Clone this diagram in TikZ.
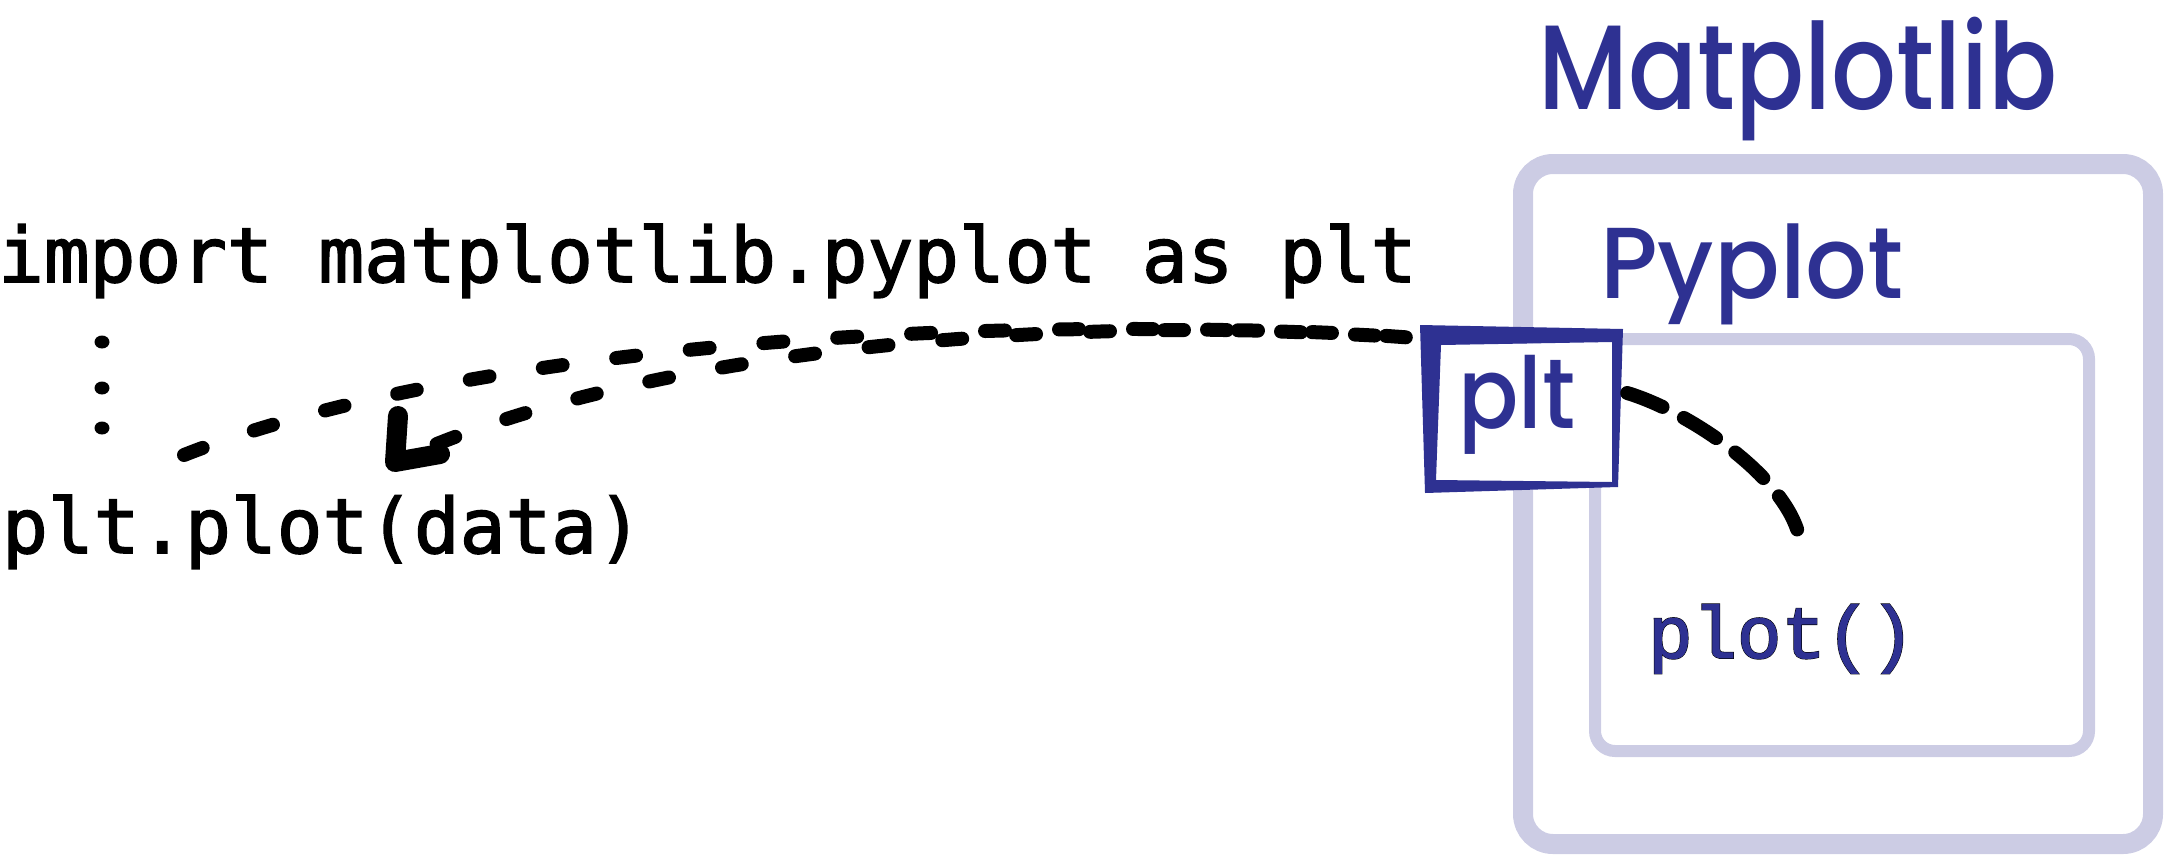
\documentclass[tikz,border=0pt]{standalone}
\usepackage{fontspec}
\usepackage{graphicx}
\usetikzlibrary{calc}
\newfontfamily\codefont{DejaVu Sans Mono}[FakeBold=2]
\newfontfamily\handfont{Poppins Medium}
\newfontfamily\plotfont{Liberation Mono}[FakeBold=1.2]
\newfontfamily\plotoutline{Liberation Mono}[FakeBold=2.6]
\definecolor{inkblue}{RGB}{46,49,146}
\definecolor{lav}{RGB}{204,204,228}
\begin{document}
\begin{tikzpicture}[x=1pt,y=-1pt,
  codetext/.style={inner sep=0pt, anchor=base west, font=\codefont\fontsize{76}{90}\selectfont},
  handtext/.style={inner sep=0pt, anchor=base west, text=inkblue},
  dashline/.style={line width=14pt, line cap=round, dash pattern=on 20pt off 54pt},
  shortdash/.style={line width=14pt, line cap=round, dash pattern=on 38pt off 24pt},
  lavouter/.style={draw=lav, line width=20pt, rounded corners=30pt},
  lavinner/.style={draw=lav, line width=12pt, rounded corners=20pt}
]
\useasboundingbox (0,0) rectangle (2166,857);
% lavender containers
\draw[lavouter] (1523,164) rectangle (2153,844);
\draw[lavinner] (1595,339) rectangle (2089,751);
% code lines
\node[codetext] (code1) at (-2,282) {import matplotlib.pyplot as plt};
\node[codetext] (code2) at (2,553) {plt.plot(data)};
\fill (102,342) ellipse (7.5pt and 6.5pt);
\fill (102,388) ellipse (7.5pt and 6.5pt);
\fill (102,428) ellipse (7.5pt and 6.5pt);
% plt box (hand drawn)
\fill[white] (1441,345) -- (1612,342) -- (1612,482) -- (1436,480) -- cycle;
\fill[inkblue, even odd rule] (1420,325) -- (1623,329) -- (1618,487) -- (1425,493) -- cycle
  (1441,345) -- (1612,342) -- (1612,482) -- (1436,480) -- cycle;
\node[inner sep=0pt, minimum width=200pt, minimum height=165pt] (pltbox) at (1521,408) {};
\node[handtext, font=\handfont\fontsize{99}{99}\selectfont] (plttxt) at (1458,428) {\scalebox{0.9}[1]{plt}};
% titles
\node[handtext, font=\handfont\fontsize{120}{120}\selectfont] (mpl) at (1538,109) {\scalebox{0.85}[1]{Matplotlib}};
\node[handtext, font=\handfont\fontsize{101}{101}\selectfont] (pyp) at (1600,298) {\scalebox{0.96}[1]{Pyplot}};
% plot()
\node[inner sep=0pt, anchor=base west, font=\plotoutline\fontsize{74}{90}\selectfont] (plotfnbg) at (1648,658) {plot()};
\node[inner sep=0pt, anchor=base west, font=\plotfont\fontsize{74}{90}\selectfont, text=inkblue] (plotfn) at (1648,658) {plot()};
% connectors
\coordinate (aStart) at ($(pltbox.north west)+(-15,12)$);
\coordinate (tipA) at (395,462);
\coordinate (bStart) at (184,455);
\draw[dashline] (aStart) .. controls (1150,318) and (680,330) .. (tipA);
\draw[line width=20pt, line cap=round, line join=round] ($(tipA)+(3,-46)$) -- (tipA) -- ($(tipA)+(45,-8)$);
\draw[dashline] (bStart) .. controls (450,350) and (950,310) .. (aStart);
\coordinate (cStart) at ($(pltbox.east)+(6,-15)$);
\coordinate (cEnd) at (1800,540);
\draw[shortdash] (cStart) .. controls (1690,412) and (1788,478) .. (cEnd);
\end{tikzpicture}
\end{document}
